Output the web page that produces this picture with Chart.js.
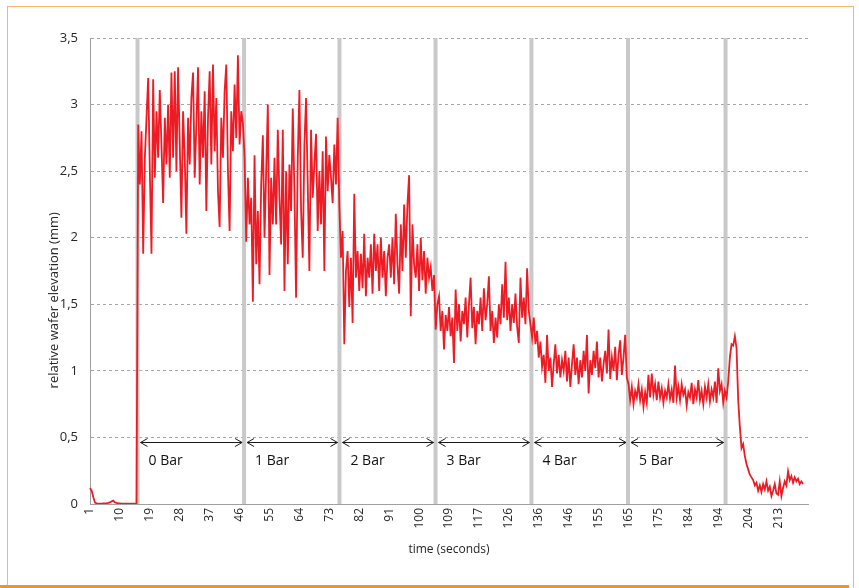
<!DOCTYPE html>
<html>
<head>
<meta charset="utf-8">
<script src="https://cdn.jsdelivr.net/npm/chart.js@4.4.1/dist/chart.umd.min.js"></script>
<style>
html,body{margin:0;padding:0;background:#fff;}
#wrap{position:relative;width:859px;height:588px;overflow:hidden;background:#fff;}
#frame{position:absolute;left:7px;top:6px;width:847px;height:620px;border:1px solid #f8b86a;box-sizing:border-box;}
#bottomBar{position:absolute;left:0;top:585px;width:849px;height:3px;background:#f29423;}
#c{position:absolute;left:0;top:0;}
</style>
</head>
<body>
<div id="wrap">
  <div id="frame"></div>
  <div id="bottomBar"></div>
  <canvas id="c" width="859" height="588"></canvas>
</div>
<script>
// ---- tick labels of the time axis (every 18th sample is labelled) ----
const tickLabels = ['1','10','19','28','37','46','55','64','73','82','91','100','109','117','126','136','146','155','165','175','184','194','204','213'];
const labelEvery = 18;
const sampleCount = 433;

// ---- relative wafer elevation (mm), per phase ----
const elevBaseline = [0.12,0.1,0.05,0.01,0.005,0.003,0.002,0.003,0.004,0.005,0.006,0.008,0.012,0.02,0.025,0.012,0.008,0.005,0.004,0.003,0.003,0.002,0.003,0.002,0.002,0.002,0.003,0.002,0.002];
const elev0Bar = [2.85,2.4,2.8,1.88,2.6,2.9,3.2,2.5,1.88,3.19,2.45,2.95,2.6,3.11,2.7,2.26,2.9,2.55,3.0,2.45,3.24,2.6,3.25,2.5,3.28,2.7,2.15,2.95,2.6,2.03,2.9,2.55,3.05,3.24,2.45,2.85,3.28,2.4,2.95,2.6,3.1,2.2,2.9,3.25,2.55,3.3,2.65,3.05,2.35,2.08,2.9,2.6,3.1,3.3,2.5,2.05,2.95,2.65,3.15,2.75,3.37,2.7,2.95,2.86];
const elev1Bar = [2.6,1.97,2.45,2.1,2.3,1.52,2.62,1.8,2.2,1.65,2.4,2.77,2.0,2.5,3.0,1.72,2.45,2.1,2.6,2.1,2.81,2.3,1.95,2.81,1.6,2.5,1.8,2.55,2.2,2.97,2.35,1.55,2.6,3.11,2.2,1.85,2.7,3.05,2.4,1.75,2.81,2.3,2.55,2.78,2.05,2.5,2.1,2.65,1.75,2.76,2.35,2.62,2.45,2.26,2.7,2.4,2.9,2.25];
const elev2Bar = [1.85,2.05,1.2,1.75,1.9,1.48,1.85,1.36,2.33,1.7,1.9,1.6,1.88,1.62,2.03,1.56,1.85,1.7,1.95,1.58,2.03,1.75,1.95,1.6,2.0,1.7,1.9,1.56,1.85,1.95,1.7,2.0,1.65,2.18,1.8,1.58,2.1,1.75,2.25,1.85,2.25,2.47,1.41,2.1,1.8,1.7,1.95,1.6,2.0,1.68,1.9,1.58,1.85,1.7,1.78,1.6,1.72];
const elev3Bar = [1.31,1.5,1.56,1.3,1.45,1.16,1.42,1.3,1.48,1.26,1.4,1.06,1.61,1.3,1.5,1.22,1.45,1.35,1.55,1.25,1.5,1.7,1.32,1.48,1.2,1.45,1.35,1.55,1.3,1.62,1.38,1.5,1.71,1.3,1.45,1.21,1.4,1.25,1.5,1.35,1.65,1.4,1.82,1.38,1.55,1.3,1.5,1.36,1.58,1.33,1.21,1.7,1.4,1.55,1.35,1.77,1.45,1.35];
const elev4Bar = [1.25,1.4,1.2,1.3,1.1,1.22,1.03,1.12,0.91,1.27,1.0,1.1,0.88,1.05,1.2,0.98,1.12,0.95,1.08,1.0,1.15,0.92,1.1,0.88,1.05,1.2,0.97,1.1,0.9,1.08,0.95,1.15,1.0,1.27,0.83,1.08,0.97,1.15,1.02,1.22,0.95,1.1,0.92,1.05,1.15,0.98,1.31,0.94,1.1,1.0,1.18,0.93,1.12,1.23,0.97,1.1,1.27,0.95];
const elev5Bar = [0.9,0.78,0.88,0.75,0.85,0.8,0.9,0.78,0.86,0.73,0.84,0.76,0.97,0.8,0.98,0.82,0.9,0.78,0.92,0.8,0.87,0.76,0.85,0.8,0.9,0.79,0.86,0.76,1.04,0.8,0.88,0.78,0.9,0.82,0.86,0.74,0.84,0.8,0.91,0.75,0.86,0.8,0.93,0.78,0.85,0.75,0.88,0.8,0.9,0.77,0.86,0.8,0.92,0.76,1.02,0.85,0.9,0.76,0.85];
const elevRelease = [0.8,0.92,1.1,1.2,1.19,1.26,1.17,0.78,0.58,0.42,0.45,0.36,0.3,0.26,0.22,0.2,0.18,0.14,0.16,0.1,0.14,0.09,0.15,0.11,0.17,0.1,0.13,0.06,0.1,0.15,0.08,0.07,0.17,0.06,0.12,0.17,0.14,0.245,0.18,0.21,0.16,0.2,0.17,0.19,0.15,0.17,0.15];

// ---- pressure phases: boundaries (sample index) and labels ----
const phaseBoundaries = [28.6, 92.7, 150.1, 207.9, 265.6, 323.7, 382.4];
const phaseLabels = ['0 Bar','1 Bar','2 Bar','3 Bar','4 Bar','5 Bar'];
const arrowLevel = 0.468;
const phaseLabelLevel = 0.325;
const yTitleText = 'relative wafer elevation (mm)';
const yTitleLevel = 1.53;

const elevation = [].concat(elevBaseline, elev0Bar, elev1Bar, elev2Bar, elev3Bar, elev4Bar, elev5Bar, elevRelease);
const sampleLabels = Array.from({length: sampleCount}, (_, i) => (i % labelEvery === 0 ? (tickLabels[i / labelEvery] || '') : ''));

const FONT = "'Open Sans', 'Noto Sans', sans-serif";
const TXT = '#262626';

const pressureZones = {
  id: 'pressureZones',
  beforeDatasetsDraw(chart) {
    const {ctx, chartArea, scales: {x}} = chart;
    ctx.save();
    ctx.strokeStyle = '#c9c9c9';
    ctx.lineWidth = 4;
    phaseBoundaries.forEach(b => {
      const px = x.getPixelForValue(b);
      ctx.beginPath();
      ctx.moveTo(px, chartArea.top);
      ctx.lineTo(px, chartArea.bottom);
      ctx.stroke();
    });
    ctx.restore();
  },
  afterDatasetsDraw(chart) {
    const {ctx, scales: {x, y}} = chart;
    ctx.save();
    const ya = Math.round(y.getPixelForValue(arrowLevel)) + 0.5;
    const yt = y.getPixelForValue(phaseLabelLevel);
    ctx.strokeStyle = '#1a1a1a';
    ctx.lineWidth = 1;
    ctx.fillStyle = '#111';
    ctx.font = "14px " + FONT;
    ctx.textBaseline = 'middle';
    ctx.textAlign = 'left';
    for (let i = 0; i < phaseLabels.length; i++) {
      const x1 = x.getPixelForValue(phaseBoundaries[i]) + 3;
      const x2 = x.getPixelForValue(phaseBoundaries[i + 1]) - 2;
      ctx.beginPath();
      ctx.moveTo(x1, ya); ctx.lineTo(x2, ya);
      ctx.moveTo(x1 + 7, ya - 4); ctx.lineTo(x1, ya); ctx.lineTo(x1 + 7, ya + 4);
      ctx.moveTo(x2 - 7, ya - 4); ctx.lineTo(x2, ya); ctx.lineTo(x2 - 7, ya + 4);
      ctx.stroke();
      ctx.fillText(phaseLabels[i], x.getPixelForValue(phaseBoundaries[i]) + 11, yt);
    }
    ctx.restore();
  },
  afterDraw(chart) {
    // y-axis title, placed as in the reference (slightly below the axis centre)
    const {ctx, scales: {y}} = chart;
    ctx.save();
    ctx.translate(y.left + 8, y.getPixelForValue(yTitleLevel));
    ctx.rotate(-Math.PI / 2);
    ctx.fillStyle = TXT;
    ctx.font = "13px " + FONT;
    ctx.textAlign = 'center';
    ctx.textBaseline = 'middle';
    ctx.fillText(yTitleText, 0, 0);
    ctx.restore();
  }
};

new Chart(document.getElementById('c'), {
  type: 'line',
  data: {
    labels: sampleLabels,
    datasets: [{
      data: elevation,
      borderColor: '#ed1c24',
      borderWidth: 1.8,
      pointRadius: 0,
      tension: 0,
      fill: false
    }]
  },
  options: {
    responsive: false,
    animation: false,
    devicePixelRatio: 1,
    layout: { padding: { left: 46, right: 51, top: 38, bottom: 31 } },
    plugins: { legend: { display: false }, tooltip: { enabled: false } },
    scales: {
      x: {
        type: 'category',
        offset: false,
        grid: { display: false, drawTicks: false },
        border: { display: true, color: '#a0a0a0', width: 1 },
        ticks: { autoSkip: false, maxRotation: 90, minRotation: 90, padding: 4, color: TXT, font: { family: FONT, size: 12 } },
        title: { display: true, text: 'time (seconds)', color: TXT, font: { family: FONT, size: 12 }, padding: 0 },
        afterFit(s) { s.height = 53; }
      },
      y: {
        min: 0, max: 3.5,
        ticks: { stepSize: 0.5, padding: 12, color: TXT, font: { family: FONT, size: 13 },
                 callback: v => String(v).replace('.', ',') },
        grid: { color: '#a6a6a6', drawTicks: false, lineWidth: 1 },
        border: { display: true, color: '#a0a0a0', width: 1, dash: [3, 3] },
        title: { display: false, text: yTitleText },
        afterFit(s) { s.width = 44; }
      }
    }
  },
  plugins: [pressureZones]
});
</script>
</body>
</html>
